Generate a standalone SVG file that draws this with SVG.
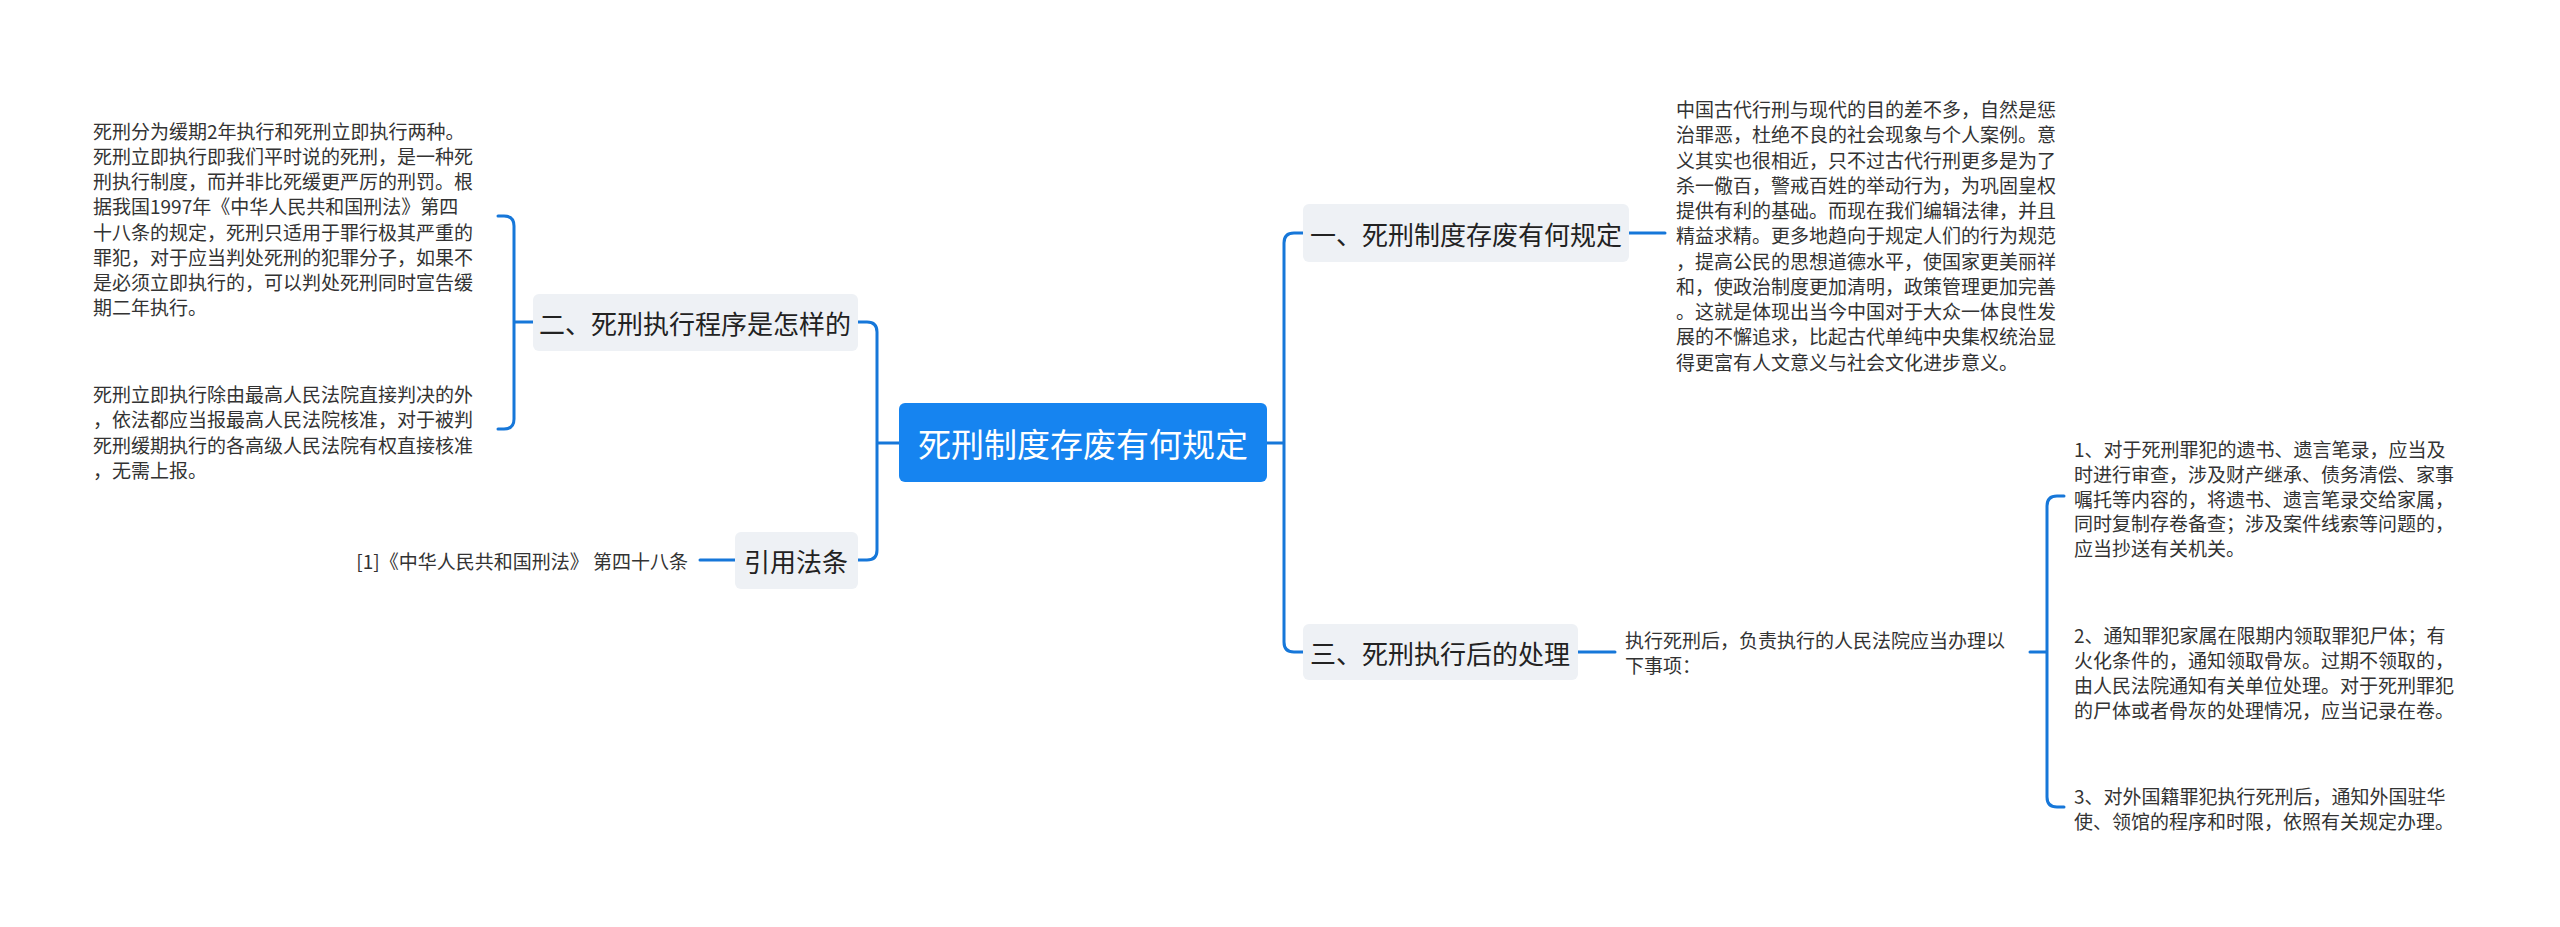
<svg xmlns="http://www.w3.org/2000/svg" width="2560" height="927" viewBox="0 0 2560 927">
<style>
.t{font-family:"Noto Sans CJK SC","Noto Sans",sans-serif;font-size:19px;fill:#333;dominant-baseline:central}
.n{fill:#eef1f5}
.nt{font-family:"Noto Sans CJK SC","Noto Sans",sans-serif;font-size:26px;fill:#222;dominant-baseline:central}
.c{fill:none;stroke:#1677d9;stroke-width:3;stroke-linecap:round}
</style>
<rect width="2560" height="927" fill="#fff"/>
<g id="connectors">
<path class="c" d="M1267 443H1284M1284 443V243Q1284 233 1294 233H1303M1284 443V642Q1284 652 1294 652H1303"/>
<path class="c" d="M1629 233H1665M1578 652H1615"/>
<path class="c" d="M899 443H877M877 443V332Q877 322 867 322H858M877 443V550Q877 560 867 560H858"/>
<path class="c" d="M533 322H514M514 322V226Q514 216 504 216H498M514 322V419Q514 429 504 429H498"/>
<path class="c" d="M735 560H700"/>
<path class="c" d="M2030 652H2047M2047 652V506Q2047 496 2057 496H2064M2047 652V797Q2047 807 2057 807H2064M2047 672Q2047 672 2047 672"/>
</g>
<g id="root"><rect x="899" y="403" width="368" height="79" rx="6" fill="#1684f0"/><text x="1083" y="443" text-anchor="middle" font-family="Noto Sans CJK SC,sans-serif" font-size="33" fill="#fff" dominant-baseline="central">死刑制度存废有何规定</text></g>
<g id="n2"><rect class="n" x="533" y="294" width="325" height="57" rx="6"/><text class="nt" x="695" y="322" text-anchor="middle">二、死刑执行程序是怎样的</text></g>
<g id="n4"><rect class="n" x="735" y="532" width="123" height="57" rx="6"/><text class="nt" x="796" y="560" text-anchor="middle">引用法条</text></g>
<g id="n1"><rect class="n" x="1303" y="204" width="326" height="58" rx="6"/><text class="nt" x="1466" y="233" text-anchor="middle">一、死刑制度存废有何规定</text></g>
<g id="n3"><rect class="n" x="1303" y="624" width="275" height="56" rx="6"/><text class="nt" x="1440" y="652" text-anchor="middle">三、死刑执行后的处理</text></g>
<g id="l2a"><text class="t" x="93" y="130">死刑分为缓期2年执行和死刑立即执行两种。</text><text class="t" x="93" y="155">死刑立即执行即我们平时说的死刑，是一种死</text><text class="t" x="93" y="180">刑执行制度，而并非比死缓更严厉的刑罚。根</text><text class="t" x="93" y="205">据我国1997年《中华人民共和国刑法》第四</text><text class="t" x="93" y="231">十八条的规定，死刑只适用于罪行极其严重的</text><text class="t" x="93" y="256">罪犯，对于应当判处死刑的犯罪分子，如果不</text><text class="t" x="93" y="281">是必须立即执行的，可以判处死刑同时宣告缓</text><text class="t" x="93" y="306">期二年执行。</text></g>
<g id="l2b"><text class="t" x="93" y="393">死刑立即执行除由最高人民法院直接判决的外</text><text class="t" x="93" y="418">，依法都应当报最高人民法院核准，对于被判</text><text class="t" x="93" y="444">死刑缓期执行的各高级人民法院有权直接核准</text><text class="t" x="93" y="469">，无需上报。</text></g>
<g id="l4"><text class="t" x="688" y="560" text-anchor="end">[1]《中华人民共和国刑法》 第四十八条</text></g>
<g id="l1"><text class="t" x="1676" y="108">中国古代行刑与现代的目的差不多，自然是惩</text><text class="t" x="1676" y="133">治罪恶，杜绝不良的社会现象与个人案例。意</text><text class="t" x="1676" y="159">义其实也很相近，只不过古代行刑更多是为了</text><text class="t" x="1676" y="184">杀一儆百，警戒百姓的举动行为，为巩固皇权</text><text class="t" x="1676" y="209">提供有利的基础。而现在我们编辑法律，并且</text><text class="t" x="1676" y="234">精益求精。更多地趋向于规定人们的行为规范</text><text class="t" x="1676" y="260">，提高公民的思想道德水平，使国家更美丽祥</text><text class="t" x="1676" y="285">和，使政治制度更加清明，政策管理更加完善</text><text class="t" x="1676" y="310">。这就是体现出当今中国对于大众一体良性发</text><text class="t" x="1676" y="335">展的不懈追求，比起古代单纯中央集权统治显</text><text class="t" x="1676" y="361">得更富有人文意义与社会文化进步意义。</text></g>
<g id="l3"><text class="t" x="1625" y="639">执行死刑后，负责执行的人民法院应当办理以</text><text class="t" x="1625" y="664">下事项：</text></g>
<g id="l3a"><text class="t" x="2074" y="448">1、对于死刑罪犯的遗书、遗言笔录，应当及</text><text class="t" x="2074" y="473">时进行审查，涉及财产继承、债务清偿、家事</text><text class="t" x="2074" y="498">嘱托等内容的，将遗书、遗言笔录交给家属，</text><text class="t" x="2074" y="522">同时复制存卷备查；涉及案件线索等问题的，</text><text class="t" x="2074" y="547">应当抄送有关机关。</text></g>
<g id="l3b"><text class="t" x="2074" y="634">2、通知罪犯家属在限期内领取罪犯尸体；有</text><text class="t" x="2074" y="659">火化条件的，通知领取骨灰。过期不领取的，</text><text class="t" x="2074" y="684">由人民法院通知有关单位处理。对于死刑罪犯</text><text class="t" x="2074" y="709">的尸体或者骨灰的处理情况，应当记录在卷。</text></g>
<g id="l3c"><text class="t" x="2074" y="795">3、对外国籍罪犯执行死刑后，通知外国驻华</text><text class="t" x="2074" y="820">使、领馆的程序和时限，依照有关规定办理。</text></g>
</svg>
